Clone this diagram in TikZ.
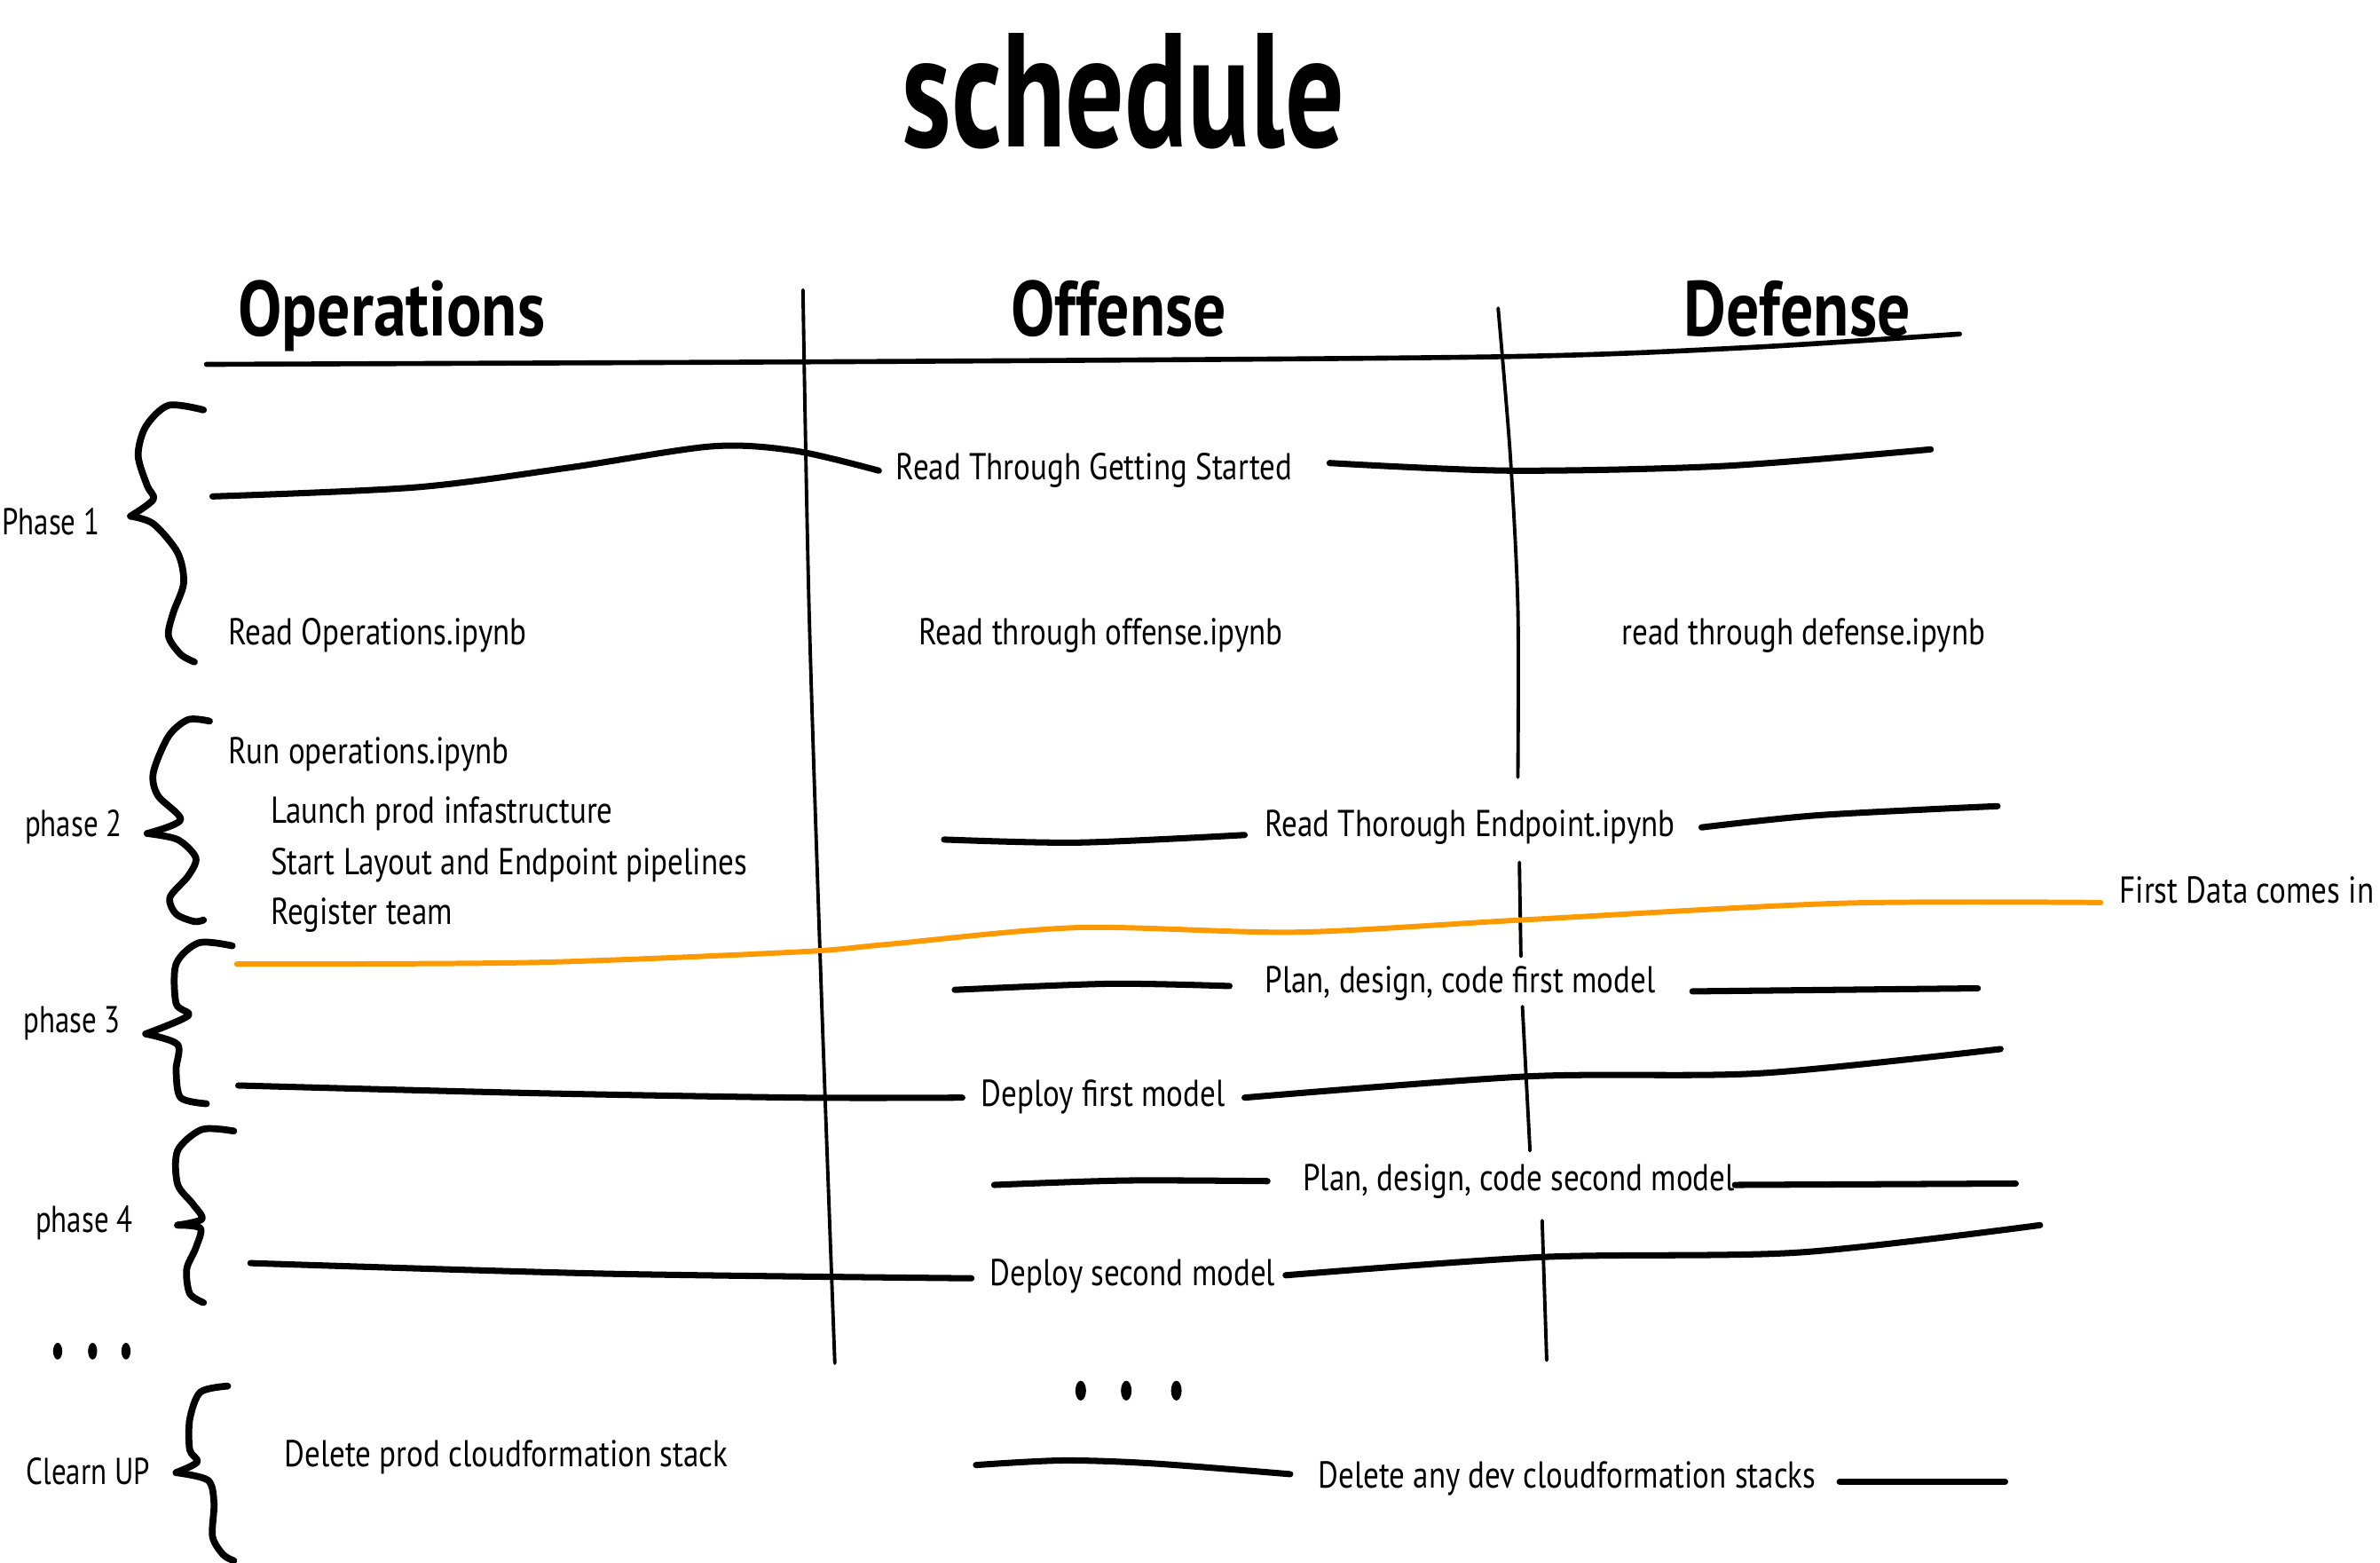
\documentclass[tikz,border=0pt]{standalone}
\usepackage{fontspec}
\setmainfont{PT Sans}[FakeStretch=0.83]
\newfontfamily\sidefont{PT Sans}[FakeStretch=0.78]
\newfontfamily\headfont{PT Sans}[FakeStretch=0.72]
\newfontfamily\colfont{PT Sans}[FakeStretch=0.84]
\definecolor{dataorange}{RGB}{255,153,0}
\begin{document}
\begin{tikzpicture}[x=0.171mm,y=-0.171mm,
  rowline/.style={line width=2pt,line cap=round,line join=round},
  colline/.style={line width=1.1pt,line cap=round},
  bracestroke/.style={line width=2.2pt,line cap=round,line join=round},
  hdrline/.style={line width=1.6pt,line cap=round},
  dataline/.style={line width=1.7pt,line cap=round,draw=dataorange},
  lbl/.style={font=\fontsize{12}{14}\selectfont,anchor=base west,inner sep=0pt},
  side/.style={font=\sidefont\fontsize{12}{14}\selectfont,anchor=base west,inner sep=0pt},
  hdr/.style={font=\colfont\bfseries\fontsize{25}{29}\selectfont,anchor=base,inner sep=0pt},
  dotmark/.style={fill=black}
]
\useasboundingbox (0,0) rectangle (1568,1029.5);

% title and column headers
\node[font=\headfont\bfseries\fontsize{52}{56}\selectfont,anchor=base,inner sep=0pt] (title) at (740,97) {schedule};
\node[hdr] (ops) at (258,221) {Operations};
\node[hdr] (off) at (737,221) {Offense};
\node[hdr] (def) at (1184,221) {Defense};

% header rule
\draw[hdrline] plot[smooth] coordinates {(136,240) (600,238) (986,235) (1150,229) (1291,220)};

% column separators
\draw[colline] plot[smooth] coordinates {(529,191) (533,400) (541,650) (550,898)};
\draw[colline] plot[smooth] coordinates {(987,203) (995,300) (1000,400) (1000,512)};
\draw[colline] (1001,568) -- (1002,630);
\draw[colline] (1003,663) -- (1008,758);
\draw[colline] (1016,804) -- (1019,896);

% phase braces
\draw[bracestroke] plot[smooth] coordinates {(134,270) (111,267) (96,281) (91,300) (97,320) (101,329) (86,340)};
\draw[bracestroke] plot[smooth] coordinates {(86,340) (101,345) (117,364) (121,384) (114,404) (111,419) (119,431) (128,436)};
\draw[bracestroke] plot[smooth] coordinates {(138,475) (124,474) (111,485) (101,509) (104,524) (119,540) (97,549)};
\draw[bracestroke] plot[smooth] coordinates {(97,549) (117,553) (129,565) (124,577) (112,591) (116,602) (128,607) (134,606)};
\draw[bracestroke] plot[smooth] coordinates {(153,623) (131,621) (116,635) (116,661) (124,669) (96,681)};
\draw[bracestroke] plot[smooth] coordinates {(96,681) (117,688) (116,705) (119,723) (136,727)};
\draw[bracestroke] plot[smooth] coordinates {(154,745) (133,744) (117,758) (117,780) (127,793) (133,803) (117,807)};
\draw[bracestroke] plot[smooth] coordinates {(117,807) (132,809) (129,822) (123,836) (125,852) (134,858)};
\draw[bracestroke] plot[smooth] coordinates {(150,913) (132,917) (125,935) (125,955) (130,963) (116,970)};
\draw[bracestroke] plot[smooth] coordinates {(116,970) (137,975) (141,990) (140,1012) (147,1024) (154,1028)};

% phase labels
\node[side] (p1) at (1,352) {Phase 1};
\node[side] (p2) at (16,551) {phase 2};
\node[side] (p3) at (15,680) {phase 3};
\node[side] (p4) at (23,812) {phase 4};
\node[side] (pc) at (17,978) {Clearn UP};

% phase 1
\node[lbl] (gs) at (590,316) {Read Through Getting Started};
\draw[rowline] plot[smooth] coordinates {(140,327) (274,321) (375,308) (469,294) (524,297) (579,310)};
\draw[rowline] plot[smooth] coordinates {(876,305) (994,310) (1135,307) (1272,296)};
\node[lbl] (rops) at (150,425) {Read Operations.ipynb};
\node[lbl] (roff) at (605,425) {Read through offense.ipynb};
\node[lbl] (rdef) at (1068,425) {read through defense.ipynb};

% phase 2
\node[lbl] (runops) at (150,503) {Run operations.ipynb};
\node[lbl] (launch) at (178,542) {Launch prod infastructure};
\node[lbl] (pipes) at (178,576) {Start Layout and Endpoint pipelines};
\node[lbl] (reg) at (178,609) {Register team};
\node[lbl] (endp) at (833,551) {Read Thorough Endpoint.ipynb};
\draw[rowline] plot[smooth] coordinates {(622,553) (710,555) (820,550)};
\draw[rowline] plot[smooth] coordinates {(1121,545) (1198,537) (1316,531)};

% first data arrives
\draw[dataline] plot[smooth] coordinates {(156,635) (350,634) (526,627) (585,622) (710,611) (854,614) (1002,606) (1212,595) (1384,594.5)};
\node[lbl] (data) at (1396,595) {First Data comes in};

% phase 3
\node[lbl] (plan1) at (833,654) {Plan, design, code first model};
\draw[rowline] plot[smooth] coordinates {(629,652) (731,648) (810,649.5)};
\draw[rowline] (1115,653) -- (1303,651);
\node[lbl] (dep1) at (646,729) {Deploy first model};
\draw[rowline] plot[smooth] coordinates {(157,715) (350,720) (526,723) (634,723)};
\draw[rowline] plot[smooth] coordinates {(820,723) (1007,709) (1159,707) (1318,691)};

% phase 4
\node[lbl] (plan2) at (858,784) {Plan, design, code second model};
\draw[rowline] plot[smooth] coordinates {(655,780.5) (741,777.6) (835,778)};
\draw[rowline] (1143,780.5) -- (1328,779.6);
\node[lbl] (dep2) at (652,847) {Deploy second model};
\draw[rowline] plot[smooth] coordinates {(165,832) (400,839) (640,842)};
\draw[rowline] plot[smooth] coordinates {(847,840) (1016,828) (1185,825) (1344,807)};

% continuation marks
\foreach \px in {38,61,83} \fill[dotmark] (\px,890) ellipse [x radius=3, y radius=5.5];
\foreach \px in {712,742,775} \fill[dotmark] (\px,916) ellipse [x radius=3.5, y radius=6.5];

% clean up
\node[lbl] (delprod) at (187,966) {Delete prod cloudformation stack};
\node[lbl] (deldev) at (868,980) {Delete any dev cloudformation stacks};
\draw[rowline] plot[smooth] coordinates {(643,965) (700,962) (760,964) (850,971)};
\draw[rowline] (1212,976) -- (1321,976);
\end{tikzpicture}
\end{document}
